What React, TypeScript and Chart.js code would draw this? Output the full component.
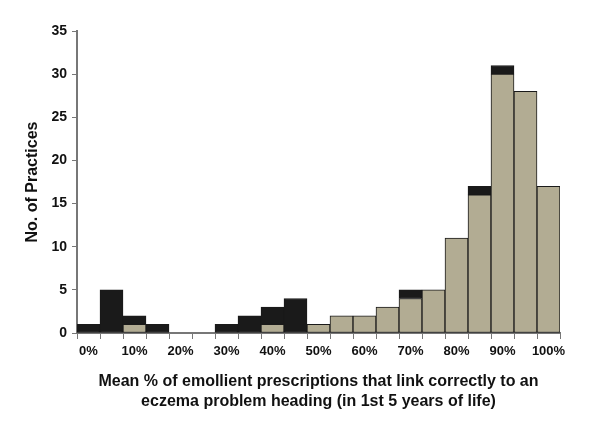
import React, { useEffect, useRef } from "react";
import { Chart, registerables } from "chart.js";

Chart.register(...registerables);

const categories = [
  "0%", "5%", "10%", "15%", "20%", "25%", "30%", "35%", "40%", "45%", "50%",
  "55%", "60%", "65%", "70%", "75%", "80%", "85%", "90%", "95%", "100%",
];
const tanValues = [null, null, 1, null, null, null, null, null, 1, null, 1, 2, 2, 3, 4, 5, 11, 16, 30, 28, 17];
const blackValues = [1, 5, 1, 1, null, null, 1, 2, 2, 4, null, null, null, null, 1, null, null, 1, 1, null, null];
const yTicks = [0, 5, 10, 15, 20, 25, 30, 35];
const xTitle = [
  "Mean % of emollient prescriptions that link correctly to an",
  "eczema problem heading (in 1st 5 years of life)",
];
const yTitle = "No. of Practices";

export default function App() {
  const ref = useRef<HTMLCanvasElement>(null);
  useEffect(() => {
    document.body.style.margin = "0";
    const ctx = ref.current!;
    const chart = new Chart(ctx, {
      type: "bar",
      data: {
        labels: categories,
        datasets: [
          {
            label: "tan",
            data: tanValues as any,
            backgroundColor: "#b2ac93",
            borderColor: "#1a1a1a",
            borderWidth: 1,
            borderSkipped: false,
            barPercentage: 1,
            categoryPercentage: 1,
          },
          {
            label: "black",
            data: blackValues as any,
            backgroundColor: "#1a1a1a",
            borderColor: "#1a1a1a",
            borderWidth: 1,
            borderSkipped: false,
            barPercentage: 1,
            categoryPercentage: 1,
          },
        ],
      },
      options: {
        animation: false,
        responsive: false,
        maintainAspectRatio: false,
        layout: { padding: { top: 31, right: 40, left: 0, bottom: 0 } },
        plugins: { legend: { display: false }, tooltip: { enabled: false } },
        scales: {
          x: {
            stacked: true,
            offset: true,
            afterFit: (s: any) => { s.height = 94; },
            grid: {
              offset: true,
              drawOnChartArea: false,
              drawTicks: true,
              tickLength: 6,
              color: "#777",
              lineWidth: 1,
            },
            border: { color: "#777", width: 2 },
            ticks: {
              autoSkip: false,
              maxRotation: 0,
              padding: 5,
              color: "#111",
              font: { family: "Liberation Sans, Arial, sans-serif", size: 13, weight: "bold" },
              callback: (v: any, i: number) => (i % 2 === 0 ? categories[i] : ""),
            },
            title: {
              display: true,
              text: xTitle,
              color: "#111",
              font: { family: "Liberation Sans, Arial, sans-serif", size: 16, weight: "bold", lineHeight: 1.28 },
              padding: { top: 0, bottom: 15 },
            },
          },
          y: {
            stacked: true,
            min: 0,
            max: 35,
            afterFit: (s: any) => { s.width = 77; },
            afterBuildTicks: (s: any) => { s.ticks = yTicks.map((v) => ({ value: v })); },
            grid: {
              drawOnChartArea: false,
              drawTicks: true,
              tickLength: 5,
              color: "#777",
            },
            border: { color: "#777", width: 2 },
            ticks: {
              padding: 5,
              color: "#111",
              font: { family: "Liberation Sans, Arial, sans-serif", size: 14, weight: "bold" },
            },
            title: {
              display: true,
              text: yTitle,
              color: "#111",
              font: { family: "Liberation Sans, Arial, sans-serif", size: 16, weight: "bold" },
              padding: { top: 23, bottom: 0 },
            },
          },
        },
      },
    });
    return () => chart.destroy();
  }, []);
  return (
    <div style={{ width: 600, height: 427, position: "relative", background: "#fff" }}>
      <canvas ref={ref} width={600} height={427} style={{ width: 600, height: 427, display: "block" }} />
    </div>
  );
}
